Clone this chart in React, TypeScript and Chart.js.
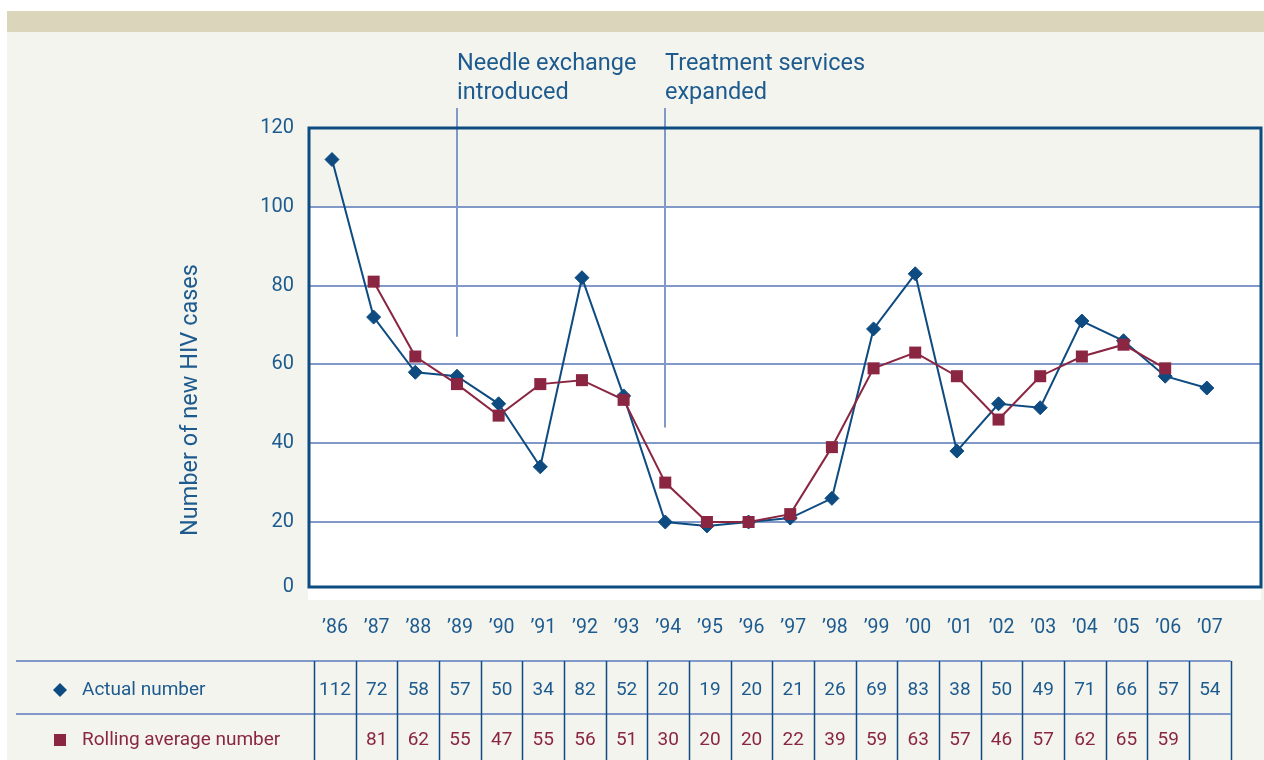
import React, { useEffect, useRef } from 'react';
import { Chart, registerables } from 'chart.js';

Chart.register(...registerables);

const years = ['’86', '’87', '’88', '’89', '’90', '’91', '’92', '’93', '’94', '’95', '’96', '’97', '’98', '’99', '’00', '’01', '’02', '’03', '’04', '’05', '’06', '’07'];
const actualNumber = [112, 72, 58, 57, 50, 34, 82, 52, 20, 19, 20, 21, 26, 69, 83, 38, 50, 49, 71, 66, 57, 54];
const rollingAverage: (number | null)[] = [null, 81, 62, 55, 47, 55, 56, 51, 30, 20, 20, 22, 39, 59, 63, 57, 46, 57, 62, 65, 59, null];
const yTickValues = [0, 20, 40, 60, 80, 100, 120];
const seriesNames = ['Actual number', 'Rolling average number'];
const yTitle = 'Number of new HIV cases';
const annotations = [
  { index: 3, lines: ['Needle exchange', 'introduced'], endValue: 67 },
  { index: 8, lines: ['Treatment services', 'expanded'], endValue: 44 },
];

const FONT = 'Roboto, "Noto Sans", sans-serif';
const BLUE = '#0d4b81';
const MAROON = '#8a2642';
const GRID = '#8099c9';
const TEXT_BLUE = '#1d5b8f';
const BG = '#f4f4ee';
const TAN = '#dbd5bb';
const Y_MIN = 3.5;

const decorPlugin = {
  id: 'decor',
  beforeDraw(chart: any) {
    const { ctx, chartArea: ca, scales } = chart;
    ctx.save();
    ctx.fillStyle = '#ffffff';
    ctx.fillRect(0, 0, chart.width, chart.height);
    ctx.fillStyle = TAN;
    ctx.fillRect(7, 11, chart.width - 7, 21);
    ctx.fillStyle = BG;
    ctx.fillRect(7, 32, chart.width - 7, chart.height - 32);
    const y100 = scales.y.getPixelForValue(100);
    ctx.fillStyle = '#ffffff';
    ctx.fillRect(ca.left, y100, ca.right - ca.left, 600 - y100);
    ctx.restore();
  },
  beforeDatasetsDraw(chart: any) {
    const { ctx, scales } = chart;
    ctx.save();
    annotations.forEach((a) => {
      const x = Math.round(scales.x.getPixelForValue(a.index));
      const yEnd = scales.y.getPixelForValue(a.endValue);
      ctx.strokeStyle = GRID;
      ctx.lineWidth = 2;
      ctx.beginPath();
      ctx.moveTo(x, 108);
      ctx.lineTo(x, yEnd);
      ctx.stroke();
      ctx.fillStyle = TEXT_BLUE;
      ctx.font = `23.5px ${FONT}`;
      ctx.textAlign = 'left';
      ctx.textBaseline = 'alphabetic';
      a.lines.forEach((t, k) => ctx.fillText(t, x, 70 + k * 29));
    });
    ctx.restore();
  },
  afterDraw(chart: any) {
    const { ctx, chartArea: ca, scales } = chart;
    const xs = scales.x;
    ctx.save();
    // plot box
    ctx.strokeStyle = BLUE;
    ctx.lineWidth = 3;
    ctx.strokeRect(ca.left + 1, ca.top, ca.right - ca.left - 1, ca.bottom - ca.top);

    // y title
    ctx.save();
    ctx.translate(191, 400);
    ctx.rotate(-Math.PI / 2);
    ctx.fillStyle = TEXT_BLUE;
    ctx.font = `23.5px ${FONT}`;
    ctx.textAlign = 'center';
    ctx.textBaseline = 'middle';
    ctx.fillText(yTitle, 0, 0);
    ctx.restore();

    const step = xs.getPixelForValue(1) - xs.getPixelForValue(0);
    const cx = (i: number) => xs.getPixelForValue(i) + 3;

    // year labels
    ctx.fillStyle = TEXT_BLUE;
    ctx.font = `19.5px ${FONT}`;
    ctx.textAlign = 'center';
    ctx.textBaseline = 'middle';
    years.forEach((y, i) => ctx.fillText(y, cx(i), 628));

    // table lines
    const left = cx(0) - step / 2;
    const right = cx(years.length - 1) + step / 2;
    ctx.strokeStyle = GRID;
    ctx.lineWidth = 2;
    [661, 714].forEach((y) => {
      ctx.beginPath();
      ctx.moveTo(16, y);
      ctx.lineTo(right, y);
      ctx.stroke();
    });
    ctx.strokeStyle = BLUE;
    ctx.lineWidth = 1.5;
    for (let i = 0; i <= years.length; i++) {
      const x = Math.round(left + i * step) + 0.5;
      ctx.beginPath();
      ctx.moveTo(x, 661);
      ctx.lineTo(x, 760);
      ctx.stroke();
    }

    // legend markers & names
    ctx.fillStyle = BLUE;
    ctx.beginPath();
    ctx.moveTo(60, 683);
    ctx.lineTo(67, 690);
    ctx.lineTo(60, 697);
    ctx.lineTo(53, 690);
    ctx.closePath();
    ctx.fill();
    ctx.fillStyle = MAROON;
    ctx.fillRect(54, 734, 12, 12);

    ctx.font = `19px ${FONT}`;
    ctx.textAlign = 'left';
    ctx.fillStyle = TEXT_BLUE;
    ctx.fillText(seriesNames[0], 82, 690);
    ctx.fillStyle = MAROON;
    ctx.fillText(seriesNames[1], 82, 740);

    // values
    ctx.textAlign = 'center';
    actualNumber.forEach((v, i) => {
      ctx.fillStyle = TEXT_BLUE;
      ctx.fillText(String(v), cx(i), 690);
    });
    rollingAverage.forEach((v, i) => {
      if (v == null) return;
      ctx.fillStyle = MAROON;
      ctx.fillText(String(v), cx(i), 740);
    });
    ctx.restore();
  },
};

export default function App() {
  const ref = useRef<HTMLCanvasElement>(null);
  useEffect(() => {
    if (!ref.current) return;
    const chart = new Chart(ref.current, {
      type: 'line',
      data: {
        datasets: [
          {
            label: seriesNames[1],
            data: rollingAverage.map((v, i) => ({ x: i, y: v })) as any,
            borderColor: MAROON,
            backgroundColor: MAROON,
            borderWidth: 2,
            pointStyle: 'rect',
            pointRadius: 8.5,
            pointBorderWidth: 0,
            order: 0,
          },
          {
            label: seriesNames[0],
            data: actualNumber.map((v, i) => ({ x: i, y: v })),
            borderColor: BLUE,
            backgroundColor: BLUE,
            borderWidth: 2,
            pointStyle: 'rectRot',
            pointRadius: 7,
            pointBorderWidth: 1,
            order: 1,
          },
        ],
      },
      options: {
        animation: false,
        responsive: false,
        devicePixelRatio: 1,
        layout: { autoPadding: false, padding: { left: 0, top: 128, right: 3, bottom: 173 } },
        plugins: { legend: { display: false }, tooltip: { enabled: false } },
        scales: {
          x: { type: 'linear', min: -0.576, max: 22.3, display: false },
          y: {
            min: Y_MIN,
            max: 120,
            afterBuildTicks: (s: any) => {
              s.ticks = yTickValues.map((v) => ({ value: v === 0 ? Y_MIN : v }));
            },
            afterFit: (s: any) => {
              s.width = 308;
            },
            ticks: {
              callback: (v: any) => (v === Y_MIN ? '0' : String(v)),
              font: { family: FONT, size: 20 },
              color: TEXT_BLUE,
              padding: 14,
            },
            grid: { color: GRID, lineWidth: 2, drawTicks: false },
            border: { display: false },
          },
        },
      },
      plugins: [decorPlugin],
    });
    return () => chart.destroy();
  }, []);
  return (
    <div style={{ position: 'fixed', left: 0, top: 0, width: 1264, height: 760 }}>
      <canvas ref={ref} width={1264} height={760} />
    </div>
  );
}
